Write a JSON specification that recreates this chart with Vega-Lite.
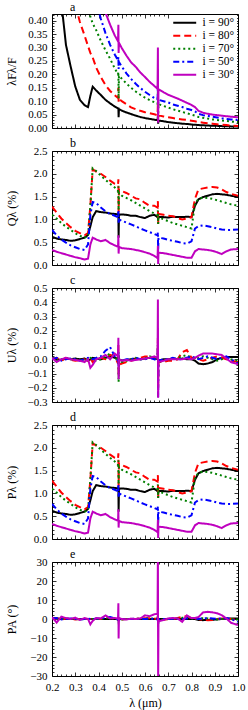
{
"$schema":"https://vega.github.io/schema/vega-lite/v6.json",
"padding":{"left":4,"top":0,"right":5,"bottom":2},
"bounds":"flush",
"spacing":23,
"data":{"values":[
{"l":0.2,"s":90,"F":1.2,"Q":0.62,"U":0.01,"P":0.62,"A":0.5},
{"l":0.22,"s":90,"F":0.75,"Q":0.58,"U":0,"P":0.58,"A":0.3},
{"l":0.24,"s":90,"F":0.47,"Q":0.56,"U":-0.005,"P":0.56,"A":0},
{"l":0.26,"s":90,"F":0.31,"Q":0.55,"U":0.005,"P":0.55,"A":0},
{"l":0.28,"s":90,"F":0.23,"Q":0.53,"U":0,"P":0.53,"A":0},
{"l":0.3,"s":90,"F":0.155,"Q":0.54,"U":0.005,"P":0.54,"A":0},
{"l":0.32,"s":90,"F":0.105,"Q":0.57,"U":0,"P":0.57,"A":0},
{"l":0.34,"s":90,"F":0.085,"Q":0.6,"U":0.005,"P":0.6,"A":0},
{"l":0.355,"s":90,"F":0.078,"Q":0.66,"U":-0.01,"P":0.66,"A":0},
{"l":0.365,"s":90,"F":0.12,"Q":0.85,"U":0,"P":0.85,"A":0},
{"l":0.375,"s":90,"F":0.154,"Q":1.05,"U":0.01,"P":1.05,"A":0},
{"l":0.39,"s":90,"F":0.14,"Q":1.18,"U":0.005,"P":1.18,"A":0},
{"l":0.41,"s":90,"F":0.123,"Q":1.16,"U":0,"P":1.16,"A":0},
{"l":0.43,"s":90,"F":0.105,"Q":1.15,"U":0.01,"P":1.15,"A":0},
{"l":0.45,"s":90,"F":0.092,"Q":1.13,"U":0.02,"P":1.13,"A":0},
{"l":0.47,"s":90,"F":0.08,"Q":1.12,"U":0.01,"P":1.12,"A":0},
{"l":0.484,"s":90,"F":0.073,"Q":1.11,"U":0.005,"P":1.11,"A":0},
{"l":0.4855,"s":90,"F":0.076,"Q":1.14,"U":0.03,"P":1.14,"A":0.5},
{"l":0.4865,"s":90,"F":0.04,"Q":0.6,"U":-0.03,"P":0.6,"A":-0.5},
{"l":0.488,"s":90,"F":0.071,"Q":1.1,"U":0,"P":1.1,"A":0},
{"l":0.5,"s":90,"F":0.065,"Q":1.11,"U":-0.01,"P":1.11,"A":0},
{"l":0.52,"s":90,"F":0.058,"Q":1.1,"U":-0.005,"P":1.1,"A":0},
{"l":0.54,"s":90,"F":0.052,"Q":1.08,"U":0,"P":1.08,"A":0},
{"l":0.56,"s":90,"F":0.046,"Q":1.08,"U":0.005,"P":1.08,"A":0},
{"l":0.58,"s":90,"F":0.041,"Q":1.05,"U":0,"P":1.05,"A":0},
{"l":0.6,"s":90,"F":0.037,"Q":1.03,"U":0.005,"P":1.03,"A":0},
{"l":0.62,"s":90,"F":0.034,"Q":1.08,"U":0.01,"P":1.08,"A":0},
{"l":0.64,"s":90,"F":0.031,"Q":1.1,"U":0.005,"P":1.1,"A":0},
{"l":0.654,"s":90,"F":0.029,"Q":1.05,"U":0,"P":1.05,"A":0},
{"l":0.6555,"s":90,"F":0.045,"Q":1.1,"U":0.03,"P":1.1,"A":0.5},
{"l":0.6565,"s":90,"F":0.016,"Q":1.0,"U":-0.03,"P":1.0,"A":-0.5},
{"l":0.658,"s":90,"F":0.028,"Q":1.05,"U":-0.01,"P":1.05,"A":0},
{"l":0.68,"s":90,"F":0.025,"Q":1.05,"U":0,"P":1.05,"A":0},
{"l":0.7,"s":90,"F":0.022,"Q":1.04,"U":0,"P":1.04,"A":0},
{"l":0.72,"s":90,"F":0.02,"Q":1.06,"U":0.005,"P":1.06,"A":0},
{"l":0.74,"s":90,"F":0.018,"Q":1.05,"U":0,"P":1.05,"A":0},
{"l":0.76,"s":90,"F":0.016,"Q":1.05,"U":0.005,"P":1.05,"A":0},
{"l":0.78,"s":90,"F":0.015,"Q":1.06,"U":0,"P":1.06,"A":0},
{"l":0.8,"s":90,"F":0.013,"Q":1.05,"U":0,"P":1.05,"A":0},
{"l":0.815,"s":90,"F":0.012,"Q":1.3,"U":-0.01,"P":1.3,"A":0},
{"l":0.83,"s":90,"F":0.011,"Q":1.44,"U":-0.03,"P":1.44,"A":-0.5},
{"l":0.85,"s":90,"F":0.01,"Q":1.49,"U":-0.035,"P":1.49,"A":-0.6},
{"l":0.87,"s":90,"F":0.009,"Q":1.52,"U":-0.03,"P":1.52,"A":-0.5},
{"l":0.89,"s":90,"F":0.0085,"Q":1.55,"U":-0.02,"P":1.55,"A":-0.4},
{"l":0.91,"s":90,"F":0.008,"Q":1.56,"U":0,"P":1.56,"A":-0.2},
{"l":0.93,"s":90,"F":0.007,"Q":1.55,"U":0.01,"P":1.55,"A":0},
{"l":0.95,"s":90,"F":0.0065,"Q":1.54,"U":0.015,"P":1.54,"A":0.2},
{"l":0.97,"s":90,"F":0.006,"Q":1.52,"U":0.015,"P":1.52,"A":0.3},
{"l":1.0,"s":90,"F":0.005,"Q":1.49,"U":0.015,"P":1.49,"A":0.3},
{"l":0.2,"s":80,"F":1.6,"Q":1.28,"U":0,"P":1.28,"A":0},
{"l":0.22,"s":80,"F":1.2,"Q":1.15,"U":0.01,"P":1.15,"A":0.4},
{"l":0.24,"s":80,"F":0.9,"Q":1.02,"U":-0.01,"P":1.02,"A":-0.3},
{"l":0.26,"s":80,"F":0.7,"Q":0.92,"U":0.01,"P":0.92,"A":0.2},
{"l":0.28,"s":80,"F":0.56,"Q":0.83,"U":-0.005,"P":0.83,"A":0},
{"l":0.3,"s":80,"F":0.46,"Q":0.75,"U":-0.01,"P":0.75,"A":-0.2},
{"l":0.32,"s":80,"F":0.395,"Q":0.7,"U":-0.005,"P":0.7,"A":0},
{"l":0.34,"s":80,"F":0.345,"Q":0.65,"U":0,"P":0.65,"A":0},
{"l":0.355,"s":80,"F":0.305,"Q":0.7,"U":-0.01,"P":0.7,"A":0},
{"l":0.365,"s":80,"F":0.28,"Q":1.3,"U":0.01,"P":1.3,"A":0},
{"l":0.375,"s":80,"F":0.263,"Q":2.1,"U":-0.02,"P":2.1,"A":0},
{"l":0.39,"s":80,"F":0.225,"Q":2.05,"U":0,"P":2.05,"A":0},
{"l":0.41,"s":80,"F":0.19,"Q":2.0,"U":0.01,"P":2.0,"A":0},
{"l":0.43,"s":80,"F":0.16,"Q":1.93,"U":0,"P":1.93,"A":0.5},
{"l":0.45,"s":80,"F":0.138,"Q":1.85,"U":0.03,"P":1.85,"A":0.5},
{"l":0.47,"s":80,"F":0.122,"Q":1.78,"U":0.02,"P":1.78,"A":0.3},
{"l":0.484,"s":80,"F":0.112,"Q":1.76,"U":-0.03,"P":1.76,"A":-0.5},
{"l":0.4855,"s":80,"F":0.15,"Q":1.88,"U":0.1,"P":1.88,"A":1},
{"l":0.4865,"s":80,"F":0.098,"Q":1.15,"U":-0.12,"P":1.15,"A":-1},
{"l":0.488,"s":80,"F":0.109,"Q":1.66,"U":-0.04,"P":1.66,"A":-0.5},
{"l":0.5,"s":80,"F":0.1,"Q":1.62,"U":-0.03,"P":1.62,"A":-0.3},
{"l":0.52,"s":80,"F":0.089,"Q":1.58,"U":-0.02,"P":1.58,"A":0},
{"l":0.54,"s":80,"F":0.077,"Q":1.52,"U":-0.01,"P":1.52,"A":0},
{"l":0.56,"s":80,"F":0.07,"Q":1.46,"U":0,"P":1.46,"A":0},
{"l":0.58,"s":80,"F":0.064,"Q":1.44,"U":0.01,"P":1.44,"A":0.3},
{"l":0.6,"s":80,"F":0.059,"Q":1.36,"U":0.02,"P":1.36,"A":0.4},
{"l":0.62,"s":80,"F":0.055,"Q":1.3,"U":0.02,"P":1.3,"A":0.4},
{"l":0.64,"s":80,"F":0.051,"Q":1.3,"U":0.01,"P":1.3,"A":0.3},
{"l":0.654,"s":80,"F":0.048,"Q":1.26,"U":0,"P":1.26,"A":0},
{"l":0.6555,"s":80,"F":0.1,"Q":1.4,"U":0.15,"P":1.4,"A":2},
{"l":0.6565,"s":80,"F":0.03,"Q":0.9,"U":-0.2,"P":0.9,"A":-2},
{"l":0.658,"s":80,"F":0.047,"Q":1.12,"U":-0.02,"P":1.12,"A":-0.5},
{"l":0.68,"s":80,"F":0.043,"Q":1.1,"U":-0.02,"P":1.1,"A":-0.4},
{"l":0.7,"s":80,"F":0.04,"Q":1.08,"U":-0.01,"P":1.08,"A":0},
{"l":0.72,"s":80,"F":0.037,"Q":1.07,"U":-0.01,"P":1.07,"A":0},
{"l":0.74,"s":80,"F":0.034,"Q":1.03,"U":0,"P":1.03,"A":0.5},
{"l":0.76,"s":80,"F":0.032,"Q":1.0,"U":0.05,"P":1.0,"A":1.2},
{"l":0.78,"s":80,"F":0.03,"Q":1.02,"U":0.065,"P":1.02,"A":1.5},
{"l":0.8,"s":80,"F":0.027,"Q":1.05,"U":0.01,"P":1.05,"A":0.3},
{"l":0.815,"s":80,"F":0.025,"Q":1.45,"U":0.01,"P":1.45,"A":0.2},
{"l":0.83,"s":80,"F":0.022,"Q":1.66,"U":0,"P":1.66,"A":0},
{"l":0.85,"s":80,"F":0.02,"Q":1.68,"U":-0.01,"P":1.68,"A":-0.5},
{"l":0.87,"s":80,"F":0.018,"Q":1.7,"U":0,"P":1.7,"A":-0.6},
{"l":0.89,"s":80,"F":0.016,"Q":1.71,"U":0.01,"P":1.71,"A":-0.5},
{"l":0.91,"s":80,"F":0.014,"Q":1.7,"U":0.02,"P":1.7,"A":0},
{"l":0.93,"s":80,"F":0.012,"Q":1.66,"U":0.01,"P":1.66,"A":0.3},
{"l":0.95,"s":80,"F":0.011,"Q":1.6,"U":0,"P":1.6,"A":0.2},
{"l":0.97,"s":80,"F":0.009,"Q":1.56,"U":-0.01,"P":1.56,"A":0},
{"l":1.0,"s":80,"F":0.0075,"Q":1.52,"U":-0.02,"P":1.52,"A":-0.5},
{"l":0.2,"s":70,"F":1.9,"Q":1.1,"U":0.01,"P":1.1,"A":0.3},
{"l":0.22,"s":70,"F":1.45,"Q":1.02,"U":-0.01,"P":1.02,"A":-0.3},
{"l":0.24,"s":70,"F":1.15,"Q":0.92,"U":0,"P":0.92,"A":0.2},
{"l":0.26,"s":70,"F":0.93,"Q":0.84,"U":0.005,"P":0.84,"A":0},
{"l":0.28,"s":70,"F":0.77,"Q":0.77,"U":0,"P":0.77,"A":0.2},
{"l":0.3,"s":70,"F":0.65,"Q":0.7,"U":-0.005,"P":0.7,"A":0},
{"l":0.32,"s":70,"F":0.56,"Q":0.64,"U":0,"P":0.64,"A":-0.2},
{"l":0.34,"s":70,"F":0.49,"Q":0.6,"U":-0.01,"P":0.6,"A":0},
{"l":0.355,"s":70,"F":0.44,"Q":0.63,"U":0,"P":0.63,"A":0},
{"l":0.365,"s":70,"F":0.415,"Q":1.3,"U":0.01,"P":1.3,"A":0},
{"l":0.375,"s":70,"F":0.39,"Q":2.12,"U":0,"P":2.12,"A":0},
{"l":0.39,"s":70,"F":0.365,"Q":2.06,"U":-0.01,"P":2.06,"A":0},
{"l":0.41,"s":70,"F":0.325,"Q":1.96,"U":0,"P":1.96,"A":0},
{"l":0.43,"s":70,"F":0.29,"Q":1.87,"U":0.02,"P":1.87,"A":0.4},
{"l":0.45,"s":70,"F":0.258,"Q":1.78,"U":0.04,"P":1.78,"A":0.6},
{"l":0.47,"s":70,"F":0.222,"Q":1.7,"U":0.02,"P":1.7,"A":0.3},
{"l":0.484,"s":70,"F":0.2,"Q":1.62,"U":-0.02,"P":1.62,"A":-0.3},
{"l":0.4855,"s":70,"F":0.21,"Q":1.72,"U":0.05,"P":1.72,"A":0.8},
{"l":0.4865,"s":70,"F":0.11,"Q":1.2,"U":-0.16,"P":1.2,"A":-0.8},
{"l":0.488,"s":70,"F":0.195,"Q":1.58,"U":-0.04,"P":1.58,"A":-0.4},
{"l":0.5,"s":70,"F":0.184,"Q":1.52,"U":-0.02,"P":1.52,"A":-0.2},
{"l":0.52,"s":70,"F":0.166,"Q":1.47,"U":-0.01,"P":1.47,"A":0},
{"l":0.54,"s":70,"F":0.15,"Q":1.42,"U":0,"P":1.42,"A":0},
{"l":0.56,"s":70,"F":0.136,"Q":1.36,"U":0.01,"P":1.36,"A":0},
{"l":0.58,"s":70,"F":0.124,"Q":1.3,"U":0,"P":1.3,"A":0.2},
{"l":0.6,"s":70,"F":0.113,"Q":1.24,"U":0.005,"P":1.24,"A":0.3},
{"l":0.62,"s":70,"F":0.104,"Q":1.18,"U":0.02,"P":1.18,"A":0.3},
{"l":0.64,"s":70,"F":0.096,"Q":1.13,"U":0.01,"P":1.13,"A":0.2},
{"l":0.654,"s":70,"F":0.09,"Q":1.09,"U":-0.01,"P":1.09,"A":0},
{"l":0.6555,"s":70,"F":0.14,"Q":1.2,"U":0.1,"P":1.2,"A":1.5},
{"l":0.6565,"s":70,"F":0.04,"Q":0.9,"U":-0.15,"P":0.9,"A":-1.5},
{"l":0.658,"s":70,"F":0.089,"Q":1.05,"U":-0.02,"P":1.05,"A":-0.4},
{"l":0.68,"s":70,"F":0.082,"Q":1.0,"U":-0.01,"P":1.0,"A":-0.3},
{"l":0.7,"s":70,"F":0.076,"Q":0.96,"U":0,"P":0.96,"A":0},
{"l":0.72,"s":70,"F":0.07,"Q":0.92,"U":0,"P":0.92,"A":0},
{"l":0.74,"s":70,"F":0.065,"Q":0.89,"U":0.01,"P":0.89,"A":0.3},
{"l":0.76,"s":70,"F":0.06,"Q":0.86,"U":0.02,"P":0.86,"A":0.6},
{"l":0.78,"s":70,"F":0.055,"Q":0.83,"U":0.03,"P":0.83,"A":0.8},
{"l":0.8,"s":70,"F":0.05,"Q":0.8,"U":0.01,"P":0.8,"A":0.3},
{"l":0.815,"s":70,"F":0.046,"Q":1.35,"U":0,"P":1.35,"A":0.2},
{"l":0.83,"s":70,"F":0.041,"Q":1.45,"U":0.01,"P":1.45,"A":0.3},
{"l":0.85,"s":70,"F":0.038,"Q":1.48,"U":0.02,"P":1.48,"A":0.4},
{"l":0.87,"s":70,"F":0.035,"Q":1.47,"U":0.01,"P":1.47,"A":0.3},
{"l":0.89,"s":70,"F":0.032,"Q":1.45,"U":0,"P":1.45,"A":0},
{"l":0.91,"s":70,"F":0.03,"Q":1.42,"U":-0.01,"P":1.42,"A":-0.2},
{"l":0.93,"s":70,"F":0.028,"Q":1.39,"U":0,"P":1.39,"A":0},
{"l":0.95,"s":70,"F":0.026,"Q":1.36,"U":0.01,"P":1.36,"A":0.2},
{"l":0.97,"s":70,"F":0.024,"Q":1.33,"U":0,"P":1.33,"A":0},
{"l":1.0,"s":70,"F":0.022,"Q":1.3,"U":-0.01,"P":1.3,"A":-0.3},
{"l":0.2,"s":50,"F":2.5,"Q":0.77,"U":0,"P":0.77,"A":0.2},
{"l":0.22,"s":50,"F":2.0,"Q":0.65,"U":0.01,"P":0.65,"A":0.5},
{"l":0.24,"s":50,"F":1.6,"Q":0.56,"U":-0.01,"P":0.56,"A":-0.2},
{"l":0.26,"s":50,"F":1.3,"Q":0.49,"U":0,"P":0.49,"A":0},
{"l":0.28,"s":50,"F":1.1,"Q":0.43,"U":0.005,"P":0.43,"A":0.3},
{"l":0.3,"s":50,"F":0.95,"Q":0.39,"U":0,"P":0.39,"A":0},
{"l":0.32,"s":50,"F":0.83,"Q":0.35,"U":-0.01,"P":0.35,"A":-0.3},
{"l":0.34,"s":50,"F":0.73,"Q":0.33,"U":0,"P":0.33,"A":0},
{"l":0.355,"s":50,"F":0.66,"Q":0.45,"U":0.01,"P":0.45,"A":0.2},
{"l":0.365,"s":50,"F":0.6,"Q":1.1,"U":0,"P":1.1,"A":0},
{"l":0.375,"s":50,"F":0.55,"Q":1.38,"U":0,"P":1.38,"A":0},
{"l":0.39,"s":50,"F":0.471,"Q":1.36,"U":0.01,"P":1.36,"A":0.2},
{"l":0.41,"s":50,"F":0.407,"Q":1.26,"U":0.02,"P":1.26,"A":0.3},
{"l":0.43,"s":50,"F":0.354,"Q":1.18,"U":0.06,"P":1.18,"A":0.8},
{"l":0.45,"s":50,"F":0.31,"Q":1.12,"U":0.085,"P":1.12,"A":1},
{"l":0.47,"s":50,"F":0.274,"Q":1.08,"U":0.02,"P":1.08,"A":0.3},
{"l":0.484,"s":50,"F":0.252,"Q":1.05,"U":-0.01,"P":1.05,"A":-0.3},
{"l":0.4855,"s":50,"F":0.265,"Q":1.2,"U":0.05,"P":1.2,"A":1},
{"l":0.4865,"s":50,"F":0.22,"Q":0.9,"U":-0.05,"P":0.9,"A":-1},
{"l":0.488,"s":50,"F":0.246,"Q":1.0,"U":-0.02,"P":1.0,"A":-0.3},
{"l":0.5,"s":50,"F":0.229,"Q":0.97,"U":-0.01,"P":0.97,"A":-0.2},
{"l":0.52,"s":50,"F":0.204,"Q":0.93,"U":0,"P":0.93,"A":0},
{"l":0.54,"s":50,"F":0.183,"Q":0.89,"U":0,"P":0.89,"A":0},
{"l":0.56,"s":50,"F":0.165,"Q":0.85,"U":0.01,"P":0.85,"A":0.2},
{"l":0.58,"s":50,"F":0.149,"Q":0.8,"U":0,"P":0.8,"A":0},
{"l":0.6,"s":50,"F":0.135,"Q":0.76,"U":0,"P":0.76,"A":0},
{"l":0.62,"s":50,"F":0.123,"Q":0.72,"U":0.01,"P":0.72,"A":0.2},
{"l":0.64,"s":50,"F":0.112,"Q":0.68,"U":0,"P":0.68,"A":0},
{"l":0.654,"s":50,"F":0.106,"Q":0.65,"U":-0.01,"P":0.65,"A":-0.2},
{"l":0.6555,"s":50,"F":0.16,"Q":0.72,"U":0.1,"P":0.72,"A":1.5},
{"l":0.6565,"s":50,"F":0.085,"Q":0.3,"U":-0.27,"P":0.3,"A":-3},
{"l":0.658,"s":50,"F":0.105,"Q":0.6,"U":-0.01,"P":0.6,"A":-0.2},
{"l":0.68,"s":50,"F":0.1,"Q":0.58,"U":0,"P":0.58,"A":0},
{"l":0.7,"s":50,"F":0.095,"Q":0.55,"U":0,"P":0.55,"A":0},
{"l":0.72,"s":50,"F":0.088,"Q":0.53,"U":0.01,"P":0.53,"A":0.2},
{"l":0.74,"s":50,"F":0.083,"Q":0.51,"U":0,"P":0.51,"A":0},
{"l":0.76,"s":50,"F":0.078,"Q":0.48,"U":0,"P":0.48,"A":0},
{"l":0.78,"s":50,"F":0.072,"Q":0.47,"U":0.01,"P":0.47,"A":0.3},
{"l":0.8,"s":50,"F":0.067,"Q":0.52,"U":0.02,"P":0.52,"A":0.5},
{"l":0.815,"s":50,"F":0.062,"Q":0.8,"U":0.01,"P":0.8,"A":0.3},
{"l":0.83,"s":50,"F":0.053,"Q":0.85,"U":0,"P":0.85,"A":0},
{"l":0.85,"s":50,"F":0.048,"Q":0.87,"U":0.01,"P":0.87,"A":0.3},
{"l":0.87,"s":50,"F":0.045,"Q":0.85,"U":0.02,"P":0.85,"A":0.5},
{"l":0.89,"s":50,"F":0.042,"Q":0.83,"U":0.01,"P":0.83,"A":0.3},
{"l":0.91,"s":50,"F":0.039,"Q":0.8,"U":0,"P":0.8,"A":0},
{"l":0.93,"s":50,"F":0.036,"Q":0.78,"U":0.01,"P":0.78,"A":0.3},
{"l":0.95,"s":50,"F":0.034,"Q":0.77,"U":0.02,"P":0.77,"A":0.5},
{"l":0.97,"s":50,"F":0.032,"Q":0.77,"U":0,"P":0.77,"A":0},
{"l":1.0,"s":50,"F":0.03,"Q":0.78,"U":-0.03,"P":0.78,"A":-1.5},
{"l":0.2,"s":30,"F":2.4,"Q":0.33,"U":0.01,"P":0.33,"A":1},
{"l":0.22,"s":30,"F":1.95,"Q":0.29,"U":-0.02,"P":0.29,"A":-1.9},
{"l":0.24,"s":30,"F":1.6,"Q":0.26,"U":0,"P":0.26,"A":1.2},
{"l":0.26,"s":30,"F":1.35,"Q":0.23,"U":0.01,"P":0.23,"A":0.5},
{"l":0.28,"s":30,"F":1.15,"Q":0.2,"U":0,"P":0.2,"A":0},
{"l":0.3,"s":30,"F":0.98,"Q":0.17,"U":-0.005,"P":0.17,"A":0.7},
{"l":0.32,"s":30,"F":0.85,"Q":0.15,"U":-0.01,"P":0.15,"A":-0.5},
{"l":0.34,"s":30,"F":0.74,"Q":0.12,"U":-0.02,"P":0.12,"A":0.5},
{"l":0.355,"s":30,"F":0.67,"Q":0.14,"U":0,"P":0.14,"A":0},
{"l":0.365,"s":30,"F":0.63,"Q":0.45,"U":-0.06,"P":0.45,"A":-2.8},
{"l":0.375,"s":30,"F":0.59,"Q":0.6,"U":-0.04,"P":0.6,"A":-1},
{"l":0.39,"s":30,"F":0.54,"Q":0.56,"U":0,"P":0.56,"A":0.5},
{"l":0.41,"s":30,"F":0.48,"Q":0.52,"U":0.01,"P":0.52,"A":0.3},
{"l":0.43,"s":30,"F":0.43,"Q":0.55,"U":0.03,"P":0.55,"A":1.9},
{"l":0.45,"s":30,"F":0.385,"Q":0.48,"U":0,"P":0.48,"A":0.3},
{"l":0.47,"s":30,"F":0.345,"Q":0.43,"U":0.04,"P":0.43,"A":0.5},
{"l":0.484,"s":30,"F":0.323,"Q":0.4,"U":0.02,"P":0.4,"A":0.3},
{"l":0.4855,"s":30,"F":0.385,"Q":0.65,"U":0.15,"P":0.65,"A":8.3},
{"l":0.4865,"s":30,"F":0.28,"Q":0.25,"U":-0.14,"P":0.25,"A":-10.3},
{"l":0.488,"s":30,"F":0.318,"Q":0.4,"U":0,"P":0.4,"A":0.5},
{"l":0.5,"s":30,"F":0.298,"Q":0.37,"U":-0.01,"P":0.37,"A":0},
{"l":0.52,"s":30,"F":0.27,"Q":0.36,"U":-0.005,"P":0.36,"A":-0.3},
{"l":0.54,"s":30,"F":0.245,"Q":0.35,"U":-0.01,"P":0.35,"A":0.2},
{"l":0.56,"s":30,"F":0.228,"Q":0.33,"U":-0.005,"P":0.33,"A":0},
{"l":0.58,"s":30,"F":0.207,"Q":0.31,"U":0,"P":0.31,"A":0.3},
{"l":0.6,"s":30,"F":0.19,"Q":0.28,"U":0.005,"P":0.28,"A":1.9},
{"l":0.62,"s":30,"F":0.172,"Q":0.25,"U":0.01,"P":0.25,"A":1.5},
{"l":0.64,"s":30,"F":0.157,"Q":0.2,"U":0.02,"P":0.2,"A":2.5},
{"l":0.654,"s":30,"F":0.146,"Q":0.15,"U":0.01,"P":0.15,"A":2.8},
{"l":0.6555,"s":30,"F":0.3,"Q":0.42,"U":0.42,"P":0.42,"A":35},
{"l":0.6565,"s":30,"F":0.02,"Q":0.02,"U":-0.27,"P":0.02,"A":-35},
{"l":0.658,"s":30,"F":0.144,"Q":0.27,"U":-0.02,"P":0.27,"A":-1.2},
{"l":0.68,"s":30,"F":0.133,"Q":0.26,"U":-0.01,"P":0.26,"A":-0.5},
{"l":0.7,"s":30,"F":0.124,"Q":0.24,"U":0,"P":0.24,"A":0.3},
{"l":0.72,"s":30,"F":0.117,"Q":0.22,"U":0,"P":0.22,"A":0.5},
{"l":0.74,"s":30,"F":0.11,"Q":0.2,"U":0,"P":0.2,"A":0.3},
{"l":0.76,"s":30,"F":0.102,"Q":0.18,"U":0,"P":0.18,"A":-1.5},
{"l":0.78,"s":30,"F":0.094,"Q":0.16,"U":0.005,"P":0.16,"A":1.9},
{"l":0.8,"s":30,"F":0.086,"Q":0.16,"U":0,"P":0.16,"A":0.5},
{"l":0.815,"s":30,"F":0.078,"Q":0.3,"U":0.01,"P":0.3,"A":0.5},
{"l":0.83,"s":30,"F":0.064,"Q":0.35,"U":0.025,"P":0.35,"A":1},
{"l":0.85,"s":30,"F":0.057,"Q":0.34,"U":0.04,"P":0.34,"A":3.5},
{"l":0.87,"s":30,"F":0.053,"Q":0.33,"U":0.04,"P":0.33,"A":3.8},
{"l":0.89,"s":30,"F":0.05,"Q":0.31,"U":0.04,"P":0.31,"A":3.5},
{"l":0.91,"s":30,"F":0.048,"Q":0.28,"U":0.035,"P":0.28,"A":3},
{"l":0.93,"s":30,"F":0.046,"Q":0.24,"U":0.03,"P":0.24,"A":2},
{"l":0.95,"s":30,"F":0.044,"Q":0.3,"U":0.005,"P":0.3,"A":0.3},
{"l":0.97,"s":30,"F":0.042,"Q":0.34,"U":-0.02,"P":0.34,"A":-2},
{"l":1.0,"s":30,"F":0.04,"Q":0.35,"U":-0.035,"P":0.35,"A":-3.2}
]},
"vconcat":[
{"width":186,"height":114,
 "title":{"text":"a","anchor":"start","frame":"group","dx":18,"offset":-5},
 "layer":[
  {"mark":{"type":"line","strokeWidth":2,"clip":true},
   "encoding":{
    "x":{"field":"l","type":"quantitative","scale":{"domain":[0.2,1.0],"nice":false,"zero":false},
         "axis":{"orient":"bottom","values":[0.2,0.22,0.24,0.26,0.28,0.3,0.32,0.34,0.36,0.38,0.4,0.42,0.44,0.46,0.48,0.5,0.52,0.54,0.56,0.58,0.6,0.62,0.64,0.66,0.68,0.7,0.72,0.74,0.76,0.78,0.8,0.82,0.84,0.86,0.88,0.9,0.92,0.94,0.96,0.98,1.0],"labels":false,"title":null,
                 "tickSize":{"condition":{"test":"abs(datum.value*10-round(datum.value*10))<0.001","value":-4},"value":-2}}},
    "y":{"field":"F","type":"quantitative","scale":{"domain":[0,0.425],"nice":false},
         "axis":{"orient":"left","values":[0,0.01,0.02,0.03,0.04,0.05,0.06,0.07,0.08,0.09,0.1,0.11,0.12,0.13,0.14,0.15,0.16,0.17,0.18,0.19,0.2,0.21,0.22,0.23,0.24,0.25,0.26,0.27,0.28,0.29,0.3,0.31,0.32,0.33,0.34,0.35,0.36,0.37,0.38,0.39,0.4,0.41,0.42],
                 "labelExpr":"abs(datum.value*20-round(datum.value*20))<0.001 ? format(datum.value,'.2f') : ''",
                 "tickSize":{"condition":{"test":"abs(datum.value*20-round(datum.value*20))<0.001","value":-4},"value":-2},
                 "title":"λFλ/F","titleX":-41,"titleY":57,"titleBaseline":"middle","labelPadding":9}},
    "color":{"field":"s","type":"nominal","scale":{"domain":[90,80,70,50,30],"range":["#000000","#ff0000","#008000","#0000ff","#bf00bf"]},
             "legend":{"orient":"top-right","offset":1,"title":null,"labelExpr":"'i = ' + datum.label + '°'","labelFont":"Liberation Serif","labelFontSize":11.5,"labelColor":"#000","symbolType":"M-1,0L4.1,0","symbolSize":81,"symbolStrokeWidth":2,"labelOffset":19,"rowPadding":0,"padding":2,"fillColor":"#ffffff"}},
    "strokeDash":{"field":"s","type":"nominal","scale":{"domain":[90,80,70,50,30],"range":[[1,0],[7,4],[2,3],[6,3,2,3],[1,0]]},
             "legend":{"orient":"top-right","offset":1,"title":null,"labelExpr":"'i = ' + datum.label + '°'","labelFont":"Liberation Serif","labelFontSize":11.5,"labelColor":"#000","symbolType":"M-1,0L4.1,0","symbolSize":81,"symbolStrokeWidth":2,"labelOffset":19,"rowPadding":0,"padding":2,"fillColor":"#ffffff"}}
   }},
  {"mark":{"type":"line","opacity":0,"clip":true},
   "encoding":{
    "x":{"field":"l","type":"quantitative","axis":{"orient":"top","minExtent":0,"maxExtent":0,"values":[0.2,0.22,0.24,0.26,0.28,0.3,0.32,0.34,0.36,0.38,0.4,0.42,0.44,0.46,0.48,0.5,0.52,0.54,0.56,0.58,0.6,0.62,0.64,0.66,0.68,0.7,0.72,0.74,0.76,0.78,0.8,0.82,0.84,0.86,0.88,0.9,0.92,0.94,0.96,0.98,1.0],"labels":false,"title":null,
                 "tickSize":{"condition":{"test":"abs(datum.value*10-round(datum.value*10))<0.001","value":-4},"value":-2}}},
    "y":{"field":"F","type":"quantitative","axis":{"orient":"right","minExtent":0,"maxExtent":0,"values":[0,0.01,0.02,0.03,0.04,0.05,0.06,0.07,0.08,0.09,0.1,0.11,0.12,0.13,0.14,0.15,0.16,0.17,0.18,0.19,0.2,0.21,0.22,0.23,0.24,0.25,0.26,0.27,0.28,0.29,0.3,0.31,0.32,0.33,0.34,0.35,0.36,0.37,0.38,0.39,0.4,0.41,0.42],"labels":false,"title":null,
                 "tickSize":{"condition":{"test":"abs(datum.value*20-round(datum.value*20))<0.001","value":-4},"value":-2}}}
   }}
 ],
 "resolve":{"axis":{"x":"independent","y":"independent"}}
},
{"width":186,"height":114,
 "title":{"text":"b","anchor":"start","frame":"group","dx":18,"offset":-5},
 "layer":[
  {"mark":{"type":"line","strokeWidth":2,"clip":true},
   "encoding":{
    "x":{"field":"l","type":"quantitative","scale":{"domain":[0.2,1.0],"nice":false,"zero":false},
         "axis":{"orient":"bottom","values":[0.2,0.22,0.24,0.26,0.28,0.3,0.32,0.34,0.36,0.38,0.4,0.42,0.44,0.46,0.48,0.5,0.52,0.54,0.56,0.58,0.6,0.62,0.64,0.66,0.68,0.7,0.72,0.74,0.76,0.78,0.8,0.82,0.84,0.86,0.88,0.9,0.92,0.94,0.96,0.98,1.0],"labels":false,"title":null,
                 "tickSize":{"condition":{"test":"abs(datum.value*10-round(datum.value*10))<0.001","value":-4},"value":-2}}},
    "y":{"field":"Q","type":"quantitative","scale":{"domain":[0,2.5],"nice":false},
         "axis":{"orient":"left","values":[0,0.1,0.2,0.3,0.4,0.5,0.6,0.7,0.8,0.9,1.0,1.1,1.2,1.3,1.4,1.5,1.6,1.7,1.8,1.9,2.0,2.1,2.2,2.3,2.4,2.5],
                 "labelExpr":"abs(datum.value*2-round(datum.value*2))<0.001 ? format(datum.value,'.1f') : ''",
                 "tickSize":{"condition":{"test":"abs(datum.value*2-round(datum.value*2))<0.001","value":-4},"value":-2},
                 "title":"Qλ (%)","titleX":-41,"titleY":57,"titleBaseline":"middle","labelPadding":9}},
    "color":{"field":"s","type":"nominal","scale":{"domain":[90,80,70,50,30],"range":["#000000","#ff0000","#008000","#0000ff","#bf00bf"]},"legend":null},
    "strokeDash":{"field":"s","type":"nominal","scale":{"domain":[90,80,70,50,30],"range":[[1,0],[7,4],[2,3],[6,3,2,3],[1,0]]},"legend":null}
   }},
  {"mark":{"type":"line","opacity":0,"clip":true},
   "encoding":{
    "x":{"field":"l","type":"quantitative","axis":{"orient":"top","minExtent":0,"maxExtent":0,"values":[0.2,0.22,0.24,0.26,0.28,0.3,0.32,0.34,0.36,0.38,0.4,0.42,0.44,0.46,0.48,0.5,0.52,0.54,0.56,0.58,0.6,0.62,0.64,0.66,0.68,0.7,0.72,0.74,0.76,0.78,0.8,0.82,0.84,0.86,0.88,0.9,0.92,0.94,0.96,0.98,1.0],"labels":false,"title":null,
                 "tickSize":{"condition":{"test":"abs(datum.value*10-round(datum.value*10))<0.001","value":-4},"value":-2}}},
    "y":{"field":"Q","type":"quantitative","axis":{"orient":"right","minExtent":0,"maxExtent":0,"values":[0,0.1,0.2,0.3,0.4,0.5,0.6,0.7,0.8,0.9,1.0,1.1,1.2,1.3,1.4,1.5,1.6,1.7,1.8,1.9,2.0,2.1,2.2,2.3,2.4,2.5],"labels":false,"title":null,
                 "tickSize":{"condition":{"test":"abs(datum.value*2-round(datum.value*2))<0.001","value":-4},"value":-2}}}
   }}
 ],
 "resolve":{"axis":{"x":"independent","y":"independent"}}
},
{"width":186,"height":114,
 "title":{"text":"c","anchor":"start","frame":"group","dx":18,"offset":-5},
 "layer":[
  {"mark":{"type":"line","strokeWidth":2,"clip":true},
   "encoding":{
    "x":{"field":"l","type":"quantitative","scale":{"domain":[0.2,1.0],"nice":false,"zero":false},
         "axis":{"orient":"bottom","values":[0.2,0.22,0.24,0.26,0.28,0.3,0.32,0.34,0.36,0.38,0.4,0.42,0.44,0.46,0.48,0.5,0.52,0.54,0.56,0.58,0.6,0.62,0.64,0.66,0.68,0.7,0.72,0.74,0.76,0.78,0.8,0.82,0.84,0.86,0.88,0.9,0.92,0.94,0.96,0.98,1.0],"labels":false,"title":null,
                 "tickSize":{"condition":{"test":"abs(datum.value*10-round(datum.value*10))<0.001","value":-4},"value":-2}}},
    "y":{"field":"U","type":"quantitative","scale":{"domain":[-0.3,0.5],"nice":false,"zero":false},
         "axis":{"orient":"left","values":[-0.3,-0.28,-0.26,-0.24,-0.22,-0.2,-0.18,-0.16,-0.14,-0.12,-0.1,-0.08,-0.06,-0.04,-0.02,0,0.02,0.04,0.06,0.08,0.1,0.12,0.14,0.16,0.18,0.2,0.22,0.24,0.26,0.28,0.3,0.32,0.34,0.36,0.38,0.4,0.42,0.44,0.46,0.48,0.5],
                 "labelExpr":"abs(datum.value*10-round(datum.value*10))<0.001 ? format(datum.value,'.1f') : ''",
                 "tickSize":{"condition":{"test":"abs(datum.value*10-round(datum.value*10))<0.001","value":-4},"value":-2},
                 "title":"Uλ (%)","titleX":-41,"titleY":57,"titleBaseline":"middle","labelPadding":9}},
    "color":{"field":"s","type":"nominal","scale":{"domain":[90,80,70,50,30],"range":["#000000","#ff0000","#008000","#0000ff","#bf00bf"]},"legend":null},
    "strokeDash":{"field":"s","type":"nominal","scale":{"domain":[90,80,70,50,30],"range":[[1,0],[7,4],[2,3],[6,3,2,3],[1,0]]},"legend":null}
   }},
  {"mark":{"type":"line","opacity":0,"clip":true},
   "encoding":{
    "x":{"field":"l","type":"quantitative","axis":{"orient":"top","minExtent":0,"maxExtent":0,"values":[0.2,0.22,0.24,0.26,0.28,0.3,0.32,0.34,0.36,0.38,0.4,0.42,0.44,0.46,0.48,0.5,0.52,0.54,0.56,0.58,0.6,0.62,0.64,0.66,0.68,0.7,0.72,0.74,0.76,0.78,0.8,0.82,0.84,0.86,0.88,0.9,0.92,0.94,0.96,0.98,1.0],"labels":false,"title":null,
                 "tickSize":{"condition":{"test":"abs(datum.value*10-round(datum.value*10))<0.001","value":-4},"value":-2}}},
    "y":{"field":"U","type":"quantitative","axis":{"orient":"right","minExtent":0,"maxExtent":0,"values":[-0.3,-0.28,-0.26,-0.24,-0.22,-0.2,-0.18,-0.16,-0.14,-0.12,-0.1,-0.08,-0.06,-0.04,-0.02,0,0.02,0.04,0.06,0.08,0.1,0.12,0.14,0.16,0.18,0.2,0.22,0.24,0.26,0.28,0.3,0.32,0.34,0.36,0.38,0.4,0.42,0.44,0.46,0.48,0.5],"labels":false,"title":null,
                 "tickSize":{"condition":{"test":"abs(datum.value*10-round(datum.value*10))<0.001","value":-4},"value":-2}}}
   }}
 ],
 "resolve":{"axis":{"x":"independent","y":"independent"}}
},
{"width":186,"height":114,
 "title":{"text":"d","anchor":"start","frame":"group","dx":18,"offset":-5},
 "layer":[
  {"mark":{"type":"line","strokeWidth":2,"clip":true},
   "encoding":{
    "x":{"field":"l","type":"quantitative","scale":{"domain":[0.2,1.0],"nice":false,"zero":false},
         "axis":{"orient":"bottom","values":[0.2,0.22,0.24,0.26,0.28,0.3,0.32,0.34,0.36,0.38,0.4,0.42,0.44,0.46,0.48,0.5,0.52,0.54,0.56,0.58,0.6,0.62,0.64,0.66,0.68,0.7,0.72,0.74,0.76,0.78,0.8,0.82,0.84,0.86,0.88,0.9,0.92,0.94,0.96,0.98,1.0],"labels":false,"title":null,
                 "tickSize":{"condition":{"test":"abs(datum.value*10-round(datum.value*10))<0.001","value":-4},"value":-2}}},
    "y":{"field":"P","type":"quantitative","scale":{"domain":[0,2.5],"nice":false},
         "axis":{"orient":"left","values":[0,0.1,0.2,0.3,0.4,0.5,0.6,0.7,0.8,0.9,1.0,1.1,1.2,1.3,1.4,1.5,1.6,1.7,1.8,1.9,2.0,2.1,2.2,2.3,2.4,2.5],
                 "labelExpr":"abs(datum.value*2-round(datum.value*2))<0.001 ? format(datum.value,'.1f') : ''",
                 "tickSize":{"condition":{"test":"abs(datum.value*2-round(datum.value*2))<0.001","value":-4},"value":-2},
                 "title":"Pλ (%)","titleX":-41,"titleY":57,"titleBaseline":"middle","labelPadding":9}},
    "color":{"field":"s","type":"nominal","scale":{"domain":[90,80,70,50,30],"range":["#000000","#ff0000","#008000","#0000ff","#bf00bf"]},"legend":null},
    "strokeDash":{"field":"s","type":"nominal","scale":{"domain":[90,80,70,50,30],"range":[[1,0],[7,4],[2,3],[6,3,2,3],[1,0]]},"legend":null}
   }},
  {"mark":{"type":"line","opacity":0,"clip":true},
   "encoding":{
    "x":{"field":"l","type":"quantitative","axis":{"orient":"top","minExtent":0,"maxExtent":0,"values":[0.2,0.22,0.24,0.26,0.28,0.3,0.32,0.34,0.36,0.38,0.4,0.42,0.44,0.46,0.48,0.5,0.52,0.54,0.56,0.58,0.6,0.62,0.64,0.66,0.68,0.7,0.72,0.74,0.76,0.78,0.8,0.82,0.84,0.86,0.88,0.9,0.92,0.94,0.96,0.98,1.0],"labels":false,"title":null,
                 "tickSize":{"condition":{"test":"abs(datum.value*10-round(datum.value*10))<0.001","value":-4},"value":-2}}},
    "y":{"field":"P","type":"quantitative","axis":{"orient":"right","minExtent":0,"maxExtent":0,"values":[0,0.1,0.2,0.3,0.4,0.5,0.6,0.7,0.8,0.9,1.0,1.1,1.2,1.3,1.4,1.5,1.6,1.7,1.8,1.9,2.0,2.1,2.2,2.3,2.4,2.5],"labels":false,"title":null,
                 "tickSize":{"condition":{"test":"abs(datum.value*2-round(datum.value*2))<0.001","value":-4},"value":-2}}}
   }}
 ],
 "resolve":{"axis":{"x":"independent","y":"independent"}}
},
{"width":186,"height":114,
 "title":{"text":"e","anchor":"start","frame":"group","dx":18,"offset":-5},
 "layer":[
  {"mark":{"type":"line","strokeWidth":2,"clip":true},
   "encoding":{
    "x":{"field":"l","type":"quantitative","scale":{"domain":[0.2,1.0],"nice":false,"zero":false},
         "axis":{"orient":"bottom","values":[0.2,0.22,0.24,0.26,0.28,0.3,0.32,0.34,0.36,0.38,0.4,0.42,0.44,0.46,0.48,0.5,0.52,0.54,0.56,0.58,0.6,0.62,0.64,0.66,0.68,0.7,0.72,0.74,0.76,0.78,0.8,0.82,0.84,0.86,0.88,0.9,0.92,0.94,0.96,0.98,1.0],
                 "labelExpr":"abs(datum.value*10-round(datum.value*10))<0.001 ? format(datum.value,'.1f') : ''",
                 "title":"λ (μm)","labelPadding":9,"titlePadding":3,
                 "tickSize":{"condition":{"test":"abs(datum.value*10-round(datum.value*10))<0.001","value":-4},"value":-2}}},
    "y":{"field":"A","type":"quantitative","scale":{"domain":[-30,30],"nice":false,"zero":false},
         "axis":{"orient":"left","values":[-30,-28,-26,-24,-22,-20,-18,-16,-14,-12,-10,-8,-6,-4,-2,0,2,4,6,8,10,12,14,16,18,20,22,24,26,28,30],
                 "labelExpr":"datum.value % 10 == 0 ? format(datum.value,'d') : ''",
                 "tickSize":{"condition":{"test":"datum.value % 10 == 0","value":-4},"value":-2},
                 "title":"PA (°)","titleX":-41,"titleY":57,"titleBaseline":"middle","labelPadding":9}},
    "color":{"field":"s","type":"nominal","scale":{"domain":[90,80,70,50,30],"range":["#000000","#ff0000","#008000","#0000ff","#bf00bf"]},"legend":null},
    "strokeDash":{"field":"s","type":"nominal","scale":{"domain":[90,80,70,50,30],"range":[[1,0],[7,4],[2,3],[6,3,2,3],[1,0]]},"legend":null}
   }},
  {"mark":{"type":"line","opacity":0,"clip":true},
   "encoding":{
    "x":{"field":"l","type":"quantitative","axis":{"orient":"top","minExtent":0,"maxExtent":0,"values":[0.2,0.22,0.24,0.26,0.28,0.3,0.32,0.34,0.36,0.38,0.4,0.42,0.44,0.46,0.48,0.5,0.52,0.54,0.56,0.58,0.6,0.62,0.64,0.66,0.68,0.7,0.72,0.74,0.76,0.78,0.8,0.82,0.84,0.86,0.88,0.9,0.92,0.94,0.96,0.98,1.0],"labels":false,"title":null,
                 "tickSize":{"condition":{"test":"abs(datum.value*10-round(datum.value*10))<0.001","value":-4},"value":-2}}},
    "y":{"field":"A","type":"quantitative","axis":{"orient":"right","minExtent":0,"maxExtent":0,"values":[-30,-28,-26,-24,-22,-20,-18,-16,-14,-12,-10,-8,-6,-4,-2,0,2,4,6,8,10,12,14,16,18,20,22,24,26,28,30],"labels":false,"title":null,
                 "tickSize":{"condition":{"test":"datum.value % 10 == 0","value":-4},"value":-2}}}
   }}
 ],
 "resolve":{"axis":{"x":"independent","y":"independent"}}
}
],
"resolve":{"legend":{"color":"independent","strokeDash":"independent"}},
"config":{
 "view":{"stroke":"#000","strokeWidth":1},
 "axis":{"labelFont":"Liberation Serif","labelFontSize":11,"labelColor":"#000","titleFont":"Liberation Serif","titleFontSize":12,"titleFontWeight":"normal","titleColor":"#000","tickColor":"#000","tickWidth":0.8,"domain":false,"grid":false,"labelOverlap":false,"labelFlush":false,"labelBound":false},
 "title":{"font":"Liberation Serif","fontSize":12,"fontWeight":"normal","color":"#000","baseline":"bottom"},
 "legend":{"labelFont":"Liberation Serif"}
}
}
